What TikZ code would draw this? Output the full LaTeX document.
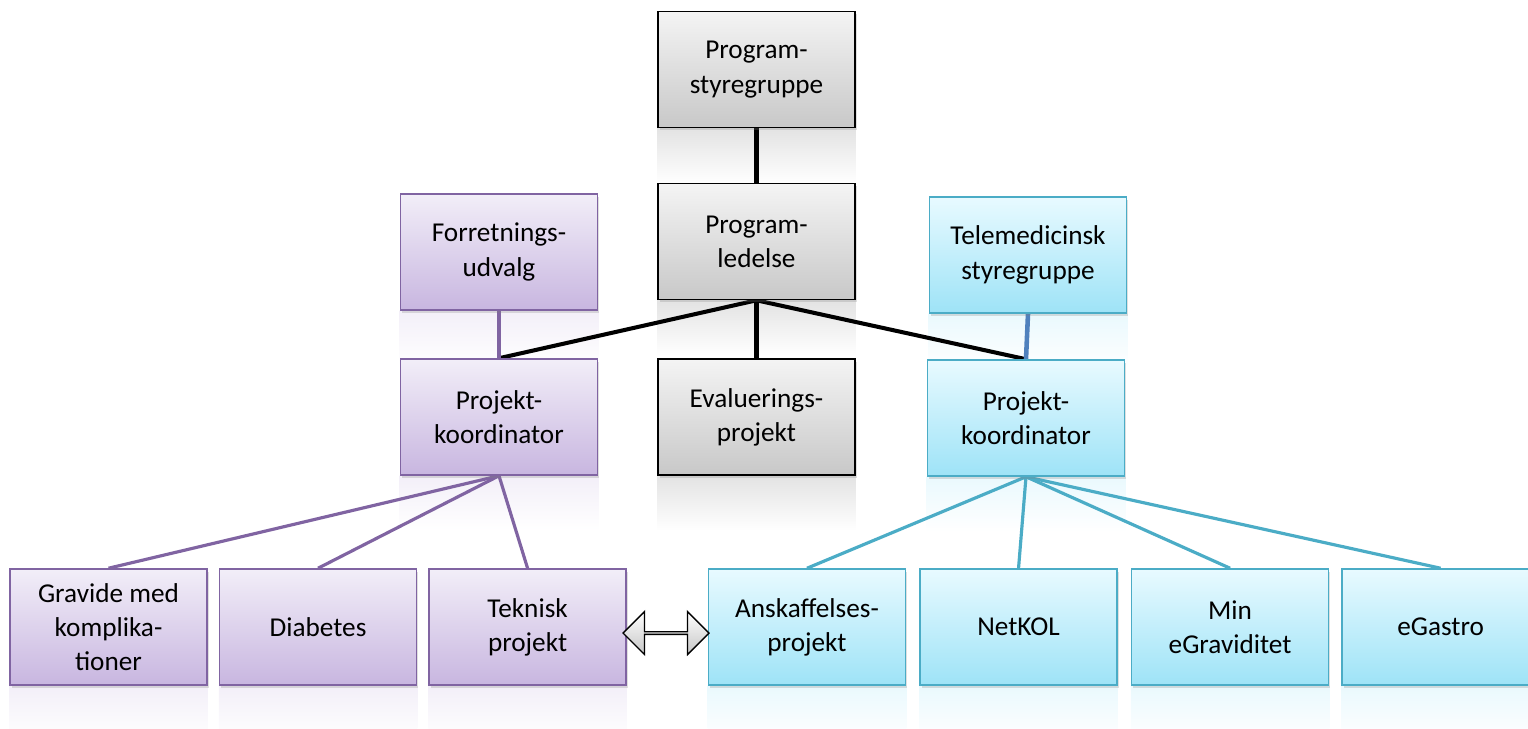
\documentclass[tikz,border=0pt]{standalone}
\usepackage{fontspec}
\setmainfont{Carlito}
\usetikzlibrary{positioning, shapes.arrows, backgrounds, shadows}

\definecolor{grayTop}{HTML}{F4F4F4}
\definecolor{grayBot}{HTML}{C8C8C8}
\definecolor{lilaTop}{HTML}{F2EEF8}
\definecolor{lilaBot}{HTML}{C8B6E0}
\definecolor{lilaLine}{HTML}{8064A2}
\definecolor{blaaTop}{HTML}{E8FAFF}
\definecolor{blaaBot}{HTML}{9EE3F7}
\definecolor{blaaLine}{HTML}{4BACC6}
\definecolor{blaaDark}{HTML}{4F81BD}

\begin{document}
\begin{tikzpicture}[
        x=0.02cm, y=-0.02cm,
        every node/.style={font=\fontsize{15.5}{19.5}\selectfont, align=center},
        box/.style={rectangle, minimum width=3.94cm, minimum height=2.32cm,
            drop shadow={opacity=0.25, shadow xshift=1pt, shadow yshift=-1.5pt}},
        graabox/.style={box, draw=black, line width=0.9pt, top color=grayTop, bottom color=grayBot},
        lilabox/.style={box, draw=lilaLine, line width=0.9pt, top color=lilaTop, bottom color=lilaBot},
        blaabox/.style={box, draw=blaaLine, line width=0.9pt, top color=blaaTop, bottom color=blaaBot},
        sortline/.style={line width=2.3pt, black},
        lilaline/.style={line width=1.8pt, lilaLine},
        blaaline/.style={line width=1.8pt, blaaLine},
        swaparrow/.style={double arrow, draw=black, line width=0.8pt, top color=white, bottom color=gray!45,
            minimum height=1.72cm, minimum width=0.86cm, double arrow head extend=0.22cm, inner sep=0pt}
    ]
        \useasboundingbox (0,0) rectangle (1528,728);

        % ledelse
        \node [graabox] (styre) at (756.5,69.5) {Program-\\styregruppe};
        \node [graabox] (ledelse) at (756.5,241.5) {Program-\\ledelse};
        \node [lilabox] (forret) at (499,252) {Forretnings-\\udvalg};
        \node [blaabox] (tele) at (1028,255) {Telemedicinsk\\styregruppe};

        % koordinatorer
        \node [lilabox] (pkL) at (499,417) {Projekt-\\koordinator};
        \node [graabox] (eval) at (756.5,417) {Evaluerings-\\projekt};
        \node [blaabox] (pkR) at (1026,418) {Projekt-\\koordinator};

        % projekter
        \node [lilabox] (gravide) at (108.5,627) {Gravide med\\komplika-\\tioner};
        \node [lilabox, right=0.22cm of gravide] (diabetes) {Diabetes};
        \node [lilabox, right=0.22cm of diabetes] (teknisk) {Teknisk\\projekt};
        \node [blaabox] (anskaf) at (807,627) {Anskaffelses-\\projekt};
        \node [blaabox, right=0.26cm of anskaf] (netkol) {NetKOL};
        \node [blaabox, right=0.26cm of netkol] (mingrav) {Min\\eGraviditet};
        \node [blaabox, right=0.24cm of mingrav] (egastro) {eGastro};

        \node [swaparrow] (swap) at (666,633) {};

        \begin{pgfonlayer}{background}
            % spejlinger
            \foreach \n/\c in {styre/gray, ledelse/gray, eval/gray,
                               forret/lilaBot, pkL/lilaBot, gravide/lilaBot, diabetes/lilaBot, teknisk/lilaBot,
                               tele/blaaBot, pkR/blaaBot, anskaf/blaaBot, netkol/blaaBot, mingrav/blaaBot, egastro/blaaBot}
                \shade [top color=\c!22, bottom color=white] (\n.south west) rectangle ([yshift=-1.1cm]\n.south east);

            % forbindelser
            \draw [sortline] (styre) -- (ledelse);
            \draw [sortline] (ledelse.south) -- (eval.north);
            \draw [sortline] (ledelse.south) -- (pkL.north);
            \draw [sortline] (ledelse.south) -- (pkR.north);
            \draw [lilaline] (forret) -- (pkL);
            \draw [line width=2.6pt, blaaDark] (tele.south) -- (pkR.north);
            \foreach \b in {gravide, diabetes, teknisk}
                \draw [lilaline] (pkL.south) -- (\b.north);
            \foreach \b in {anskaf, netkol, mingrav, egastro}
                \draw [blaaline] (pkR.south) -- (\b.north);
        \end{pgfonlayer}
    \end{tikzpicture}
\end{document}
